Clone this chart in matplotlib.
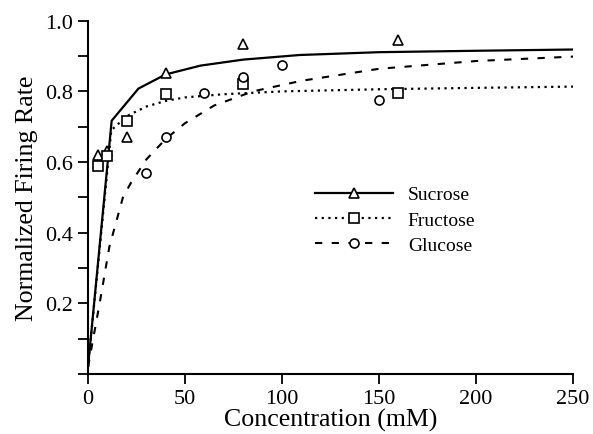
import matplotlib
matplotlib.use("Agg")
import matplotlib.pyplot as plt
from matplotlib.ticker import MultipleLocator

plt.rcParams['font.family'] = ['Liberation Serif', 'DejaVu Serif']

# measured points
suc_x = [5, 10, 20, 40, 80, 160]
suc_y = [0.62, 0.632, 0.671, 0.851, 0.933, 0.946]
fru_x = [5, 10, 20, 40, 80, 160]
fru_y = [0.589, 0.617, 0.717, 0.792, 0.822, 0.795]
glu_x = [30, 40, 60, 80, 100, 150]
glu_y = [0.57, 0.672, 0.795, 0.841, 0.874, 0.776]

# fitted curves
suc_fit_x = [0, 12.2, 26, 40, 58, 80, 109, 150, 200, 256]
suc_fit_y = [0.02, 0.717, 0.808, 0.848, 0.873, 0.89, 0.903, 0.911, 0.915, 0.919]
fru_fit_x = [0, 12, 20, 30, 40, 50, 70, 100, 150, 200, 256]
fru_fit_y = [0.02, 0.69, 0.73, 0.757, 0.773, 0.783, 0.792, 0.800, 0.806, 0.810, 0.814]
glu_fit_x = [0, 6, 11, 18, 22, 30, 40, 50, 65, 85, 110, 150, 200, 256]
glu_fit_y = [0.02, 0.20, 0.36, 0.50, 0.54, 0.607, 0.665, 0.71, 0.76, 0.80, 0.83, 0.864, 0.886, 0.90]

fig = plt.figure(figsize=(5.93, 4.35), dpi=100)
ax = fig.add_axes([0.1484, 0.138, 0.818, 0.812])

mk = dict(markerfacecolor='white', markeredgecolor='black', markersize=6.5, markeredgewidth=1.2)

# fitted lines
ax.plot(suc_fit_x, suc_fit_y, color='black', lw=1.6)
ax.plot(fru_fit_x, fru_fit_y, color='black', lw=1.6, dashes=(1, 2))
ax.plot(glu_fit_x, glu_fit_y, color='black', lw=1.5, dashes=(3.5, 4.5))

# data points
ax.plot(suc_x, suc_y, ls='none', marker='^', **mk)
ax.plot(fru_x, fru_y, ls='none', marker='s', **mk)
ax.plot(glu_x, glu_y, ls='none', marker='o', **mk)

# legend handles
h1, = ax.plot([], [], color='black', lw=1.6, marker='^', **mk)
h2, = ax.plot([], [], color='black', lw=1.6, dashes=(1, 2), marker='s', **mk)
h3, = ax.plot([], [], color='black', lw=1.5, dashes=(3.5, 4.5), marker='o', **mk)
ax.legend([h1, h2, h3], ['Sucrose', 'Fructose', 'Glucose'], frameon=False,
          numpoints=1, handlelength=4.0, handletextpad=0.77, labelspacing=0.4,
          fontsize=14, loc='center left', bbox_to_anchor=(0.432, 0.436))

ax.set_xlim(0, 250)
ax.set_ylim(0, 1.0)
ax.set_xticks([0, 50, 100, 150, 200, 250])
ax.set_yticks([0.2, 0.4, 0.6, 0.8, 1.0])
ax.set_yticklabels(['0.2', '0.4', '0.6', '0.8', '1.0'])
ax.yaxis.set_minor_locator(MultipleLocator(0.1))

for s in ['top', 'right']:
    ax.spines[s].set_visible(False)
for s in ['left', 'bottom']:
    ax.spines[s].set_linewidth(1.5)
ax.tick_params(which='both', direction='out', length=7.5, width=1.3, labelsize=16)

ax.set_xlabel('Concentration (mM)', fontsize=18.6, labelpad=0)
ax.set_ylabel('Normalized Firing Rate', fontsize=18.6, labelpad=5)

fig.savefig('out.png', dpi=100)
